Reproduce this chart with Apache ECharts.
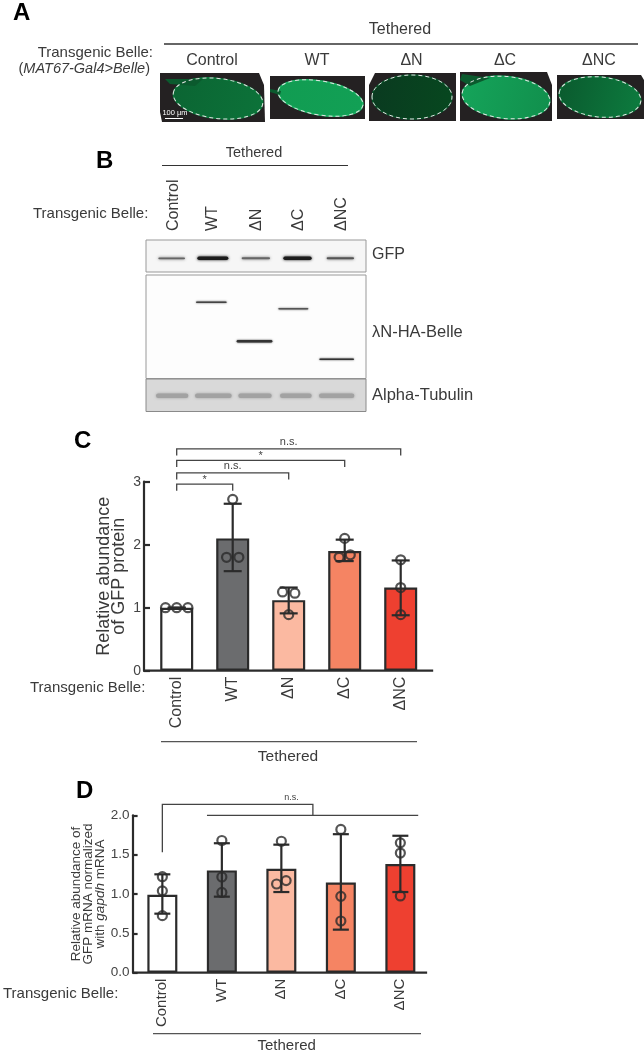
<!DOCTYPE html>
<html><head><meta charset="utf-8">
<style>html,body{margin:0;padding:0;background:#fff}#c{width:644px;height:1052px}</style>
<script src="https://cdn.jsdelivr.net/npm/echarts@6/dist/echarts.min.js"></script>
</head><body><div id="c"></div>
<script>
const categories = ['Control','WT','ΔN','ΔC','ΔNC'];
const barColors = ['#ffffff','#6b6c6e','#fbb9a1','#f58463','#ee4030'];

// Panel C: relative abundance of GFP protein
const cMeans = [1.0, 2.1, 1.12, 1.9, 1.32];
const cErrHigh = [1.0, 2.65, 1.32, 2.08, 1.75];
const cErrLow = [1.0, 1.58, 0.91, 1.74, 0.88];
const cPoints = [[1,1,1],[2.72,1.8,1.8],[1.25,1.23,0.89],[2.1,1.8,1.84],[1.76,1.32,0.89]];
const cJitter = [[-0.2,0,0.2],[0,-0.11,0.11],[-0.11,0.11,0],[0,-0.1,0.1],[0,0,0]];
const cBracketEnds = [1,2,3,4];
const cBracketLevels = [2.96,3.14,3.34,3.52];
const cBracketLabels = ['*','n.s.','*','n.s.'];

// Panel D: relative abundance of GFP mRNA
const dMeans = [0.99, 1.3, 1.32, 1.145, 1.38];
const dErrHigh = [1.25, 1.645, 1.627, 1.76, 1.74];
const dErrLow = [0.75, 0.966, 1.025, 0.547, 1.025];
const dPoints = [[1.22,1.04,0.725],[1.68,1.216,1.02],[1.67,1.127,1.17],[1.82,0.97,0.657],[1.65,1.52,0.975]];
const dJitter = [[0,0,0],[0,0,0],[0,-0.08,0.08],[0,0,0],[0,0,0]];

const ink = '#2b2b2b', txt = '#3a3a3a', FF = '"Liberation Sans",Arial,sans-serif';

function errSeries(x, y, means, hi, lo, capPx){
  return {type:'custom', xAxisIndex:x, yAxisIndex:y, z:6, silent:true,
    data: means.map((m,i)=>[i,hi[i],lo[i]]),
    renderItem(p,api){
      const i=api.value(0), a=api.coord([i,api.value(1)]), b=api.coord([i,api.value(2)]);
      const s={stroke:ink,lineWidth:2.2,fill:null};
      return {type:'group',children:[
        {type:'line',shape:{x1:a[0],y1:a[1],x2:b[0],y2:b[1]},style:s},
        {type:'line',shape:{x1:a[0]-capPx,y1:a[1],x2:a[0]+capPx,y2:a[1]},style:s},
        {type:'line',shape:{x1:b[0]-capPx,y1:b[1],x2:b[0]+capPx,y2:b[1]},style:s}]};
    }};
}
function ptSeries(x, y, pts, jit){
  const d=[]; pts.forEach((r,i)=>r.forEach((v,j)=>d.push([i+jit[i][j],v])));
  return {type:'scatter',xAxisIndex:x,yAxisIndex:y,z:7,silent:true,clip:false,symbol:'circle',symbolSize:9,
    itemStyle:{color:'transparent',borderColor:ink,borderWidth:2.2},data:d};
}
function baseLine(x,y,from,to){
  return {type:'custom',xAxisIndex:x,yAxisIndex:y,z:8,silent:true,data:[[from,to]],
    renderItem(p,api){const a=api.coord([api.value(0),0]),b=api.coord([api.value(1),0]);
      return {type:'line',shape:{x1:a[0],y1:a[1],x2:b[0],y2:b[1]},style:{stroke:ink,lineWidth:2.2,fill:null}};}};
}
function polySeries(x,y,paths,labels,width,color){
  return {type:'custom',xAxisIndex:x,yAxisIndex:y,z:5,silent:true,data:paths.map((q,i)=>[i]),
    renderItem(p,api){
      const i=p.dataIndex, pts=paths[i].map(c=>api.coord(c));
      const kids=[{type:'polyline',shape:{points:pts},style:{stroke:color,lineWidth:width,fill:null}}];
      if(labels[i]) kids.push({type:'text',style:{text:labels[i].t,x:api.coord(labels[i].at)[0],y:api.coord(labels[i].at)[1],
        textAlign:'center',textVerticalAlign:'middle',fontSize:labels[i].s,fontFamily:FF,fill:'#444'}});
      return {type:'group',children:kids};
    }};
}
const drop=0.105;
const cPaths=cBracketEnds.map((e,i)=>[[0,cBracketLevels[i]-drop],[0,cBracketLevels[i]],[e,cBracketLevels[i]],[e,cBracketLevels[i]-drop]]);
const cLabels=cBracketEnds.map((e,i)=>({t:cBracketLabels[i],at:[e/2,cBracketLevels[i]+(cBracketLabels[i]==='*'?0.07:0.11)],s:11}));
const dPaths=[[[0,1.53],[0,2.14],[2.53,2.14],[2.53,2.0]],[[0.75,2.0],[4.3,2.0]]];
const dLabels=[{t:'n.s.',at:[2.17,2.23],s:9},null];

function catAxis(g,size,margin){return {type:'category',gridIndex:g,data:categories,
  axisLine:{show:false},axisTick:{show:false},
  axisLabel:{rotate:90,fontSize:size,color:txt,fontFamily:FF,margin:margin,interval:0}};}
function hideX(g){return {type:'value',gridIndex:g,min:-0.5,max:4.5,show:false};}
function valAxis(g,max,intv,offset,tick,size,fmt,extra){return Object.assign({type:'value',gridIndex:g,min:0,max:max,interval:intv,offset:offset,
  splitLine:{show:false},axisLine:{show:true,onZero:false,lineStyle:{color:ink,width:2.2}},
  axisTick:{show:true,inside:true,length:tick,lineStyle:{color:ink,width:2.2}},
  axisLabel:{fontSize:size,color:'#444',fontFamily:FF,margin:3,formatter:fmt}},extra);}

function T(text,x,y,size,opt){return Object.assign({type:'text',x:x,y:y,rotation:(opt&&opt.rot)||0,silent:true,z:20,
  style:Object.assign({text:text,fontSize:size,fontFamily:FF,fill:(opt&&opt.c)||txt,textAlign:(opt&&opt.al)||'center',textVerticalAlign:'middle',
   fontWeight:(opt&&opt.w)||'normal'},(opt&&opt.rich)?{rich:opt.rich}:{})});}
function L(x1,y1,x2,y2,c,w){return {type:'line',silent:true,z:20,shape:{x1,y1,x2,y2},style:{stroke:c||'#333',lineWidth:w||1.5}};}
const g=[];
// panel letters
[['A',13,13],['B',96,161],['C',74,441],['D',76,791]].forEach(p=>g.push(T(p[0],p[1],p[2],24,{al:'left',w:'bold',c:'#000'})));
// --- Panel A
g.push(T('Tethered',400,30,16),L(164,44,638,44,'#333',1.5));
g.push(T('Transgenic Belle:',153,53,15,{al:'right'}));
g.push(T('({i|MAT67-Gal4>Belle})',150,68.5,14.5,{al:'right',rich:{i:{fontStyle:'italic',fontSize:14.5,fontFamily:FF,fill:txt}}}));
[212,317,411.5,505,599].forEach((x,i)=>g.push(T(categories[i],x,61,16)));
const eggs=[
 {pts:[[160,73],[259,73],[264,85],[265,122],[162,122],[160,112]],c:[218,98.5],rx:45,ry:20,rot:-0.12,a:'#0b6533',b:'#0c7239',e:'#0c7a3d'},
 {pts:[[270,76],[365,76],[365,119],[270,119]],c:[320.5,98],rx:43,ry:17,rot:-0.17,a:'#119c52',b:'#12a055',e:'#1fb868'},
 {pts:[[375,73],[456,73],[456,121],[369,121],[369,85]],c:[412,97],rx:40,ry:22,rot:0,a:'#0a3a20',b:'#07471f',e:'#0a552b'},
 {pts:[[460,72],[547,72],[552,85],[552,121],[460,121]],c:[506,97.5],rx:44,ry:21,rot:-0.1,a:'#15a45a',b:'#11904d',e:'#14a258'},
 {pts:[[557,75],[641,75],[644,80],[644,119],[557,119]],c:[600,97],rx:41,ry:20,rot:-0.1,a:'#0a5a2e',b:'#0d7a3e',e:'#0c7a3d'}];
eggs.forEach(e=>{
  g.push({type:'polygon',silent:true,z:15,shape:{points:e.pts},style:{fill:'#242122'}});
  g.push({type:'ellipse',silent:true,z:16,x:e.c[0],y:e.c[1],rotation:e.rot,shape:{cx:0,cy:0,rx:e.rx,ry:e.ry},
    style:{fill:{type:'linear',x:0,y:0,x2:1,y2:0.3,colorStops:[{offset:0,color:e.a},{offset:1,color:e.b}]},
    stroke:e.e,lineWidth:1.5}});
  g.push({type:'ellipse',silent:true,z:17,x:e.c[0],y:e.c[1],rotation:e.rot,shape:{cx:0,cy:0,rx:e.rx,ry:e.ry},
    style:{fill:'none',stroke:'#e4e4e4',lineWidth:1,lineDash:[4,3]}});
});
// stalk cells beside the oocytes
[[[165,79],[203,79],[195,86],[170,84]],[[270,89],[281,91],[280,95],[270,92]],[[462,74],[490,78],[470,86],[460,80]]].forEach(p=>
  g.push({type:'polygon',silent:true,z:16,shape:{points:p},style:{fill:'#0b5a2e'}}));
g.push(L(165,118.5,183,118.5,'#fff',1),T('100 µm',175,113,7.5,{c:'#fff'}));
// --- Panel B
g.push(T('Tethered',254,153,14.5),L(162,165.5,348,165.5,'#333',1.2));
g.push(T('Transgenic Belle:',33,214,15,{al:'left'}));
[174,213,257,299,342].forEach((x,i)=>g.push(T(categories[i],x,231,16,{al:'left',rot:Math.PI/2})));
function box(y1,y2,fill,stroke){g.push({type:'rect',silent:true,z:15,shape:{x:146,y:y1,width:220,height:y2-y1},style:{fill:fill,stroke:stroke||'#999',lineWidth:1}});}
function band(x1,x2,y,h,c,blur){g.push({type:'rect',silent:true,z:16,shape:{x:x1/3+20,y:y/3+140-h/2,width:(x2-x1)/3,height:h,r:h/2},
  style:{fill:c,shadowBlur:blur,shadowColor:c}});}
box(240,272,'#f6f6f6');box(275,378.5,'#fdfdfd');box(379,411.5,'#d9d9d9','#8a8a8a');
[[415,495,1.8,'#666'],[532,625,3.5,'#1c1c1c'],[665,750,2,'#666'],[790,875,3.5,'#1c1c1c'],[920,1002,2,'#555']].forEach(b=>band(b[0],b[1],355,b[2],b[3],3));
[[528,620,487,1.5,'#444'],[775,865,506,1.5,'#555'],[650,757,604,2.5,'#333'],[898,1002,658,1.5,'#333']].forEach(b=>band(b[0],b[1],b[2],b[3],b[4],2));
[[408,505],[525,635],[655,755],[780,875],[897,1003]].forEach(b=>band(b[0],b[1],767,4.5,'#a2a2a2',3));
g.push(T('GFP',372,255,16,{al:'left'}),T('λN-HA-Belle',372,332,16.5,{al:'left'}),T('Alpha-Tubulin',372,395,16.5,{al:'left'}));
// --- Panel C extras
g.push(T('Transgenic Belle:',30,688,15,{al:'left'}),L(161,741.7,417,741.7,'#555',1.2),T('Tethered',288,757,15.5));
// --- Panel D extras
g.push(T('Transgenic Belle:',3,994,15,{al:'left'}),L(153,1033.7,421,1033.7,'#555',1.2),T('Tethered',286.7,1045.7,15));

const option={
  animation:false,backgroundColor:'#fff',
  grid:[{left:148.7,top:481.7,width:280,height:189},{left:132.6,top:815.3,width:297.5,height:157.4}],
  xAxis:[catAxis(0,16,6),hideX(0),catAxis(1,15,6),hideX(1)],
  yAxis:[
    valAxis(0,3,1,4.7,6,14,v=>String(v),{name:'Relative abundance\nof GFP protein',nameLocation:'middle',nameRotate:90,nameGap:17,
      nameTextStyle:{fontSize:18,lineHeight:15,color:txt,fontFamily:FF}}),
    valAxis(1,2,0.5,0,5,13.5,v=>v.toFixed(1),{name:'Relative abundance of\nGFP mRNA normalized\nwith {i|gapdh} mRNA',nameLocation:'middle',nameRotate:90,nameGap:23,
      nameTextStyle:{fontSize:13.5,lineHeight:12,color:txt,fontFamily:FF,rich:{i:{fontStyle:'italic',fontSize:13.5,lineHeight:12,color:txt,fontFamily:FF}}}})
  ],
  series:[
    {type:'bar',xAxisIndex:0,yAxisIndex:0,barWidth:33,z:3,silent:true,
     itemStyle:{borderColor:ink,borderWidth:2.2},data:cMeans.map((v,i)=>({value:v,itemStyle:{color:barColors[i]}}))},
    errSeries(1,0,cMeans,cErrHigh,cErrLow,9),ptSeries(1,0,cPoints,cJitter),baseLine(1,0,-0.6,4.58),
    polySeries(1,0,cPaths,cLabels,1.3,'#444'),
    {type:'bar',xAxisIndex:2,yAxisIndex:1,barWidth:30,z:3,silent:true,
     itemStyle:{borderColor:ink,borderWidth:2.2},data:dMeans.map((v,i)=>({value:v,itemStyle:{color:barColors[i]}}))},
    errSeries(3,1,dMeans,dErrHigh,dErrLow,8),ptSeries(3,1,dPoints,dJitter),baseLine(3,1,-0.5,4.45),
    polySeries(3,1,dPaths,dLabels,1.3,'#444')
  ],
  graphic:{elements:g}
};
const chart=echarts.init(document.getElementById('c'),null,{renderer:'canvas',width:644,height:1052});
chart.setOption(option);
</script></body></html>
